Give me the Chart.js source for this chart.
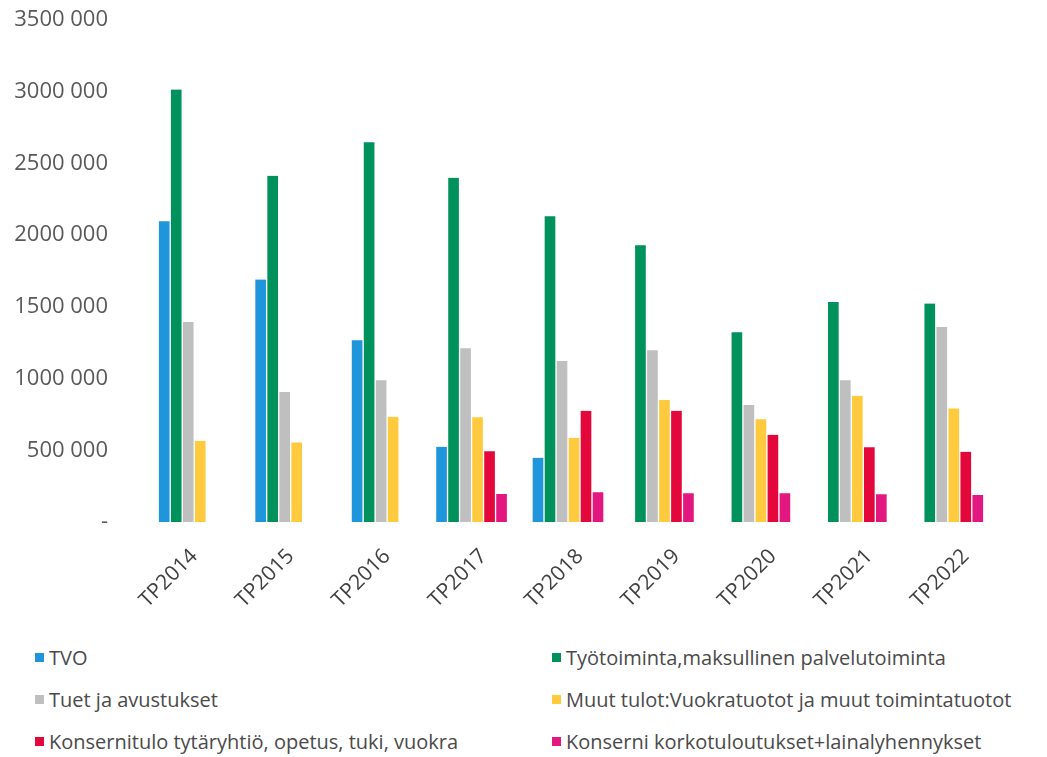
<!DOCTYPE html>
<html>
<head>
<meta charset="utf-8">
<script src="https://cdn.jsdelivr.net/npm/chart.js@4"></script>
<style>
  body { margin: 0; background: #fff; }
  #wrap { position: relative; width: 1047px; height: 630px; }
  #legend {
    display: grid;
    grid-template-columns: 517px 1fr;
    grid-auto-rows: 42px;
    padding-left: 35px;
    margin-top: 6px;
    font-family: "Open Sans", sans-serif;
    font-size: 20px;
    color: #4a4a4a;
  }
  #legend div { display: flex; align-items: center; white-space: nowrap; }
  #legend span.box { display: inline-block; width: 9px; height: 9px; margin-right: 5px; }
</style>
</head>
<body>
<div id="wrap"><canvas id="chart"></canvas></div>
<div id="legend"></div>
<script>
/******************** data ********************/

const years = ["TP2014", "TP2015", "TP2016", "TP2017", "TP2018", "TP2019", "TP2020", "TP2021", "TP2022"];
const yticks = [0, 500000, 1000000, 1500000, 2000000, 2500000, 3000000, 3500000];

const tvo      = [2096000, 1690000, 1267000, 524000, 448000, null, null, null, null];
const tyo      = [3015000, 2414000, 2648000, 2400000, 2131000, 1929000, 1323000, 1534000, 1523000];
const tuet     = [1395000, 907000, 989000, 1212000, 1123000, 1198000, 815000, 989000, 1360000];
const muut     = [566000, 555000, 733000, 731000, 587000, 850000, 717000, 880000, 792000];
const konserni = [null, null, null, 494000, 775000, 775000, 608000, 522000, 490000];
const korko    = [null, null, null, 195000, 207000, 200000, 200000, 193000, 188000];

const names = [
  "TVO",
  "Työtoiminta,maksullinen palvelutoiminta",
  "Tuet ja avustukset",
  "Muut tulot:Vuokratuotot ja muut toimintatuotot",
  "Konsernitulo tytäryhtiö, opetus, tuki, vuokra",
  "Konserni korkotuloutukset+lainalyhennykset"
];
const colors = ["#1f95db", "#00915c", "#bfbfbf", "#ffca3d", "#e3073b", "#e2177f"];
const series = [tvo, tyo, tuet, muut, konserni, korko];

/************************* chart *************************/

const datasets = series.map(function (vals, i) {
  return {
    label: names[i],
    data: vals,
    backgroundColor: colors[i],
    borderColor: "#ffffff",
    borderWidth: { left: 1, right: 1, top: 0, bottom: 0 },
    borderSkipped: false,
    barThickness: 12,
    skipNull: true,
  };
});

// y labels like "3500 000", zero shown as "-"
function fmt(v) {
  if (v === 0) return "-";
  return Math.floor(v / 1000) + " 000";
}

const ctx = document.getElementById("chart").getContext("2d");
const myChart = new Chart(ctx, {
  type: "bar",
  data: { labels: years, datasets: datasets },
  options: {
    responsive: true,
    maintainAspectRatio: false,
    animation: false,
    layout: { padding: { top: 0, right: 45, left: 0, bottom: 0 } },
    plugins: { legend: { display: false }, tooltip: { enabled: false } },
    scales: {
      x: {
        grid: { display: false },
        border: { display: false },
        ticks: {
          color: "#404040",
          font: { family: "Open Sans", size: 21 },
          minRotation: 45,
          maxRotation: 45,
          padding: 14,
          labelOffset: 12,
        },
        afterFit: function (axis) { axis.height = 108; },
      },
      y: {
        min: 0,
        max: 3500000,
        grid: { display: false },
        border: { display: false },
        afterBuildTicks: function (axis) {
          axis.ticks = yticks.map(function (v) { return { value: v }; });
        },
        ticks: {
          color: "#595959",
          font: { family: "Open Sans", size: 22 },
          padding: 18,
          callback: fmt,
        },
        afterFit: function (axis) {
          axis.width = 134;
          axis.paddingTop = 20; // top of plot at 3500 000
        },
      },
    },
  },
});

/********************* legend in two columns *********************/
const legend = document.getElementById("legend");
names.forEach(function (n, i) {
  const item = document.createElement("div");
  const box = document.createElement("span");
  box.className = "box";
  box.style.background = colors[i];
  item.appendChild(box);
  item.appendChild(document.createTextNode(n));
  legend.appendChild(item);
});
</script>
</body>
</html>
